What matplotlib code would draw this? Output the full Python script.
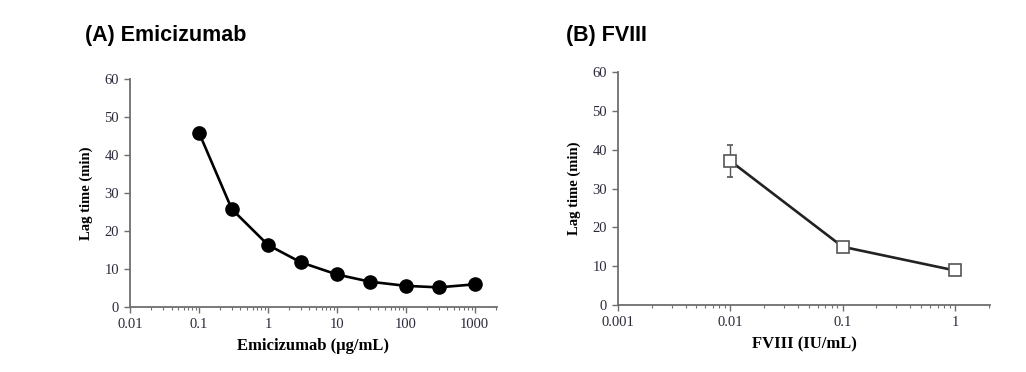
import matplotlib.pyplot as plt
from matplotlib.ticker import LogLocator, FixedLocator, NullFormatter

# (A) Emicizumab
emi_conc = [0.1, 0.3, 1, 3, 10, 30, 100, 300, 1000]
emi_lag = [45.9, 25.7, 16.3, 11.7, 8.5, 6.6, 5.5, 5.1, 5.9]
emi_err = [1.5, 0.8, 0.6, 0.4, 0.3, 0.3, 0.2, 0.2, 0.3]
emi_ticks = [0.01, 0.1, 1, 10, 100, 1000]
emi_labels = ["0.01", "0.1", "1", "10", "100", "1000"]

# (B) FVIII
f8_conc = [0.01, 0.1, 1]
f8_lag = [37.1, 15.0, 8.9]
f8_err = [4.2, 0.6, 0.4]
f8_ticks = [0.001, 0.01, 0.1, 1]
f8_labels = ["0.001", "0.01", "0.1", "1"]

serif = "Liberation Serif"

fig = plt.figure(figsize=(10.26, 3.72), dpi=100)
axA = fig.add_axes([0.1267, 0.1755, 0.3577, 0.612])
axB = fig.add_axes([0.6023, 0.180, 0.3626, 0.6265])


def style(ax, ticks, labels, xlim, xlabel):
    ax.set_xscale("log")
    ax.set_xlim(*xlim)
    ax.set_ylim(0, 60)
    ax.set_yticks(range(0, 61, 10))
    ax.xaxis.set_major_locator(FixedLocator(ticks))
    ax.set_xticklabels(labels)
    ax.xaxis.set_minor_locator(LogLocator(base=10, subs=range(2, 10), numticks=20))
    ax.xaxis.set_minor_formatter(NullFormatter())
    for s in ["top", "right"]:
        ax.spines[s].set_visible(False)
    for s in ["left", "bottom"]:
        ax.spines[s].set_color("#6e6e6e")
        ax.spines[s].set_linewidth(1.3)
    ax.tick_params(axis="both", which="major", direction="out", length=4,
                   width=1, color="#6e6e6e", labelsize=10.5, pad=4)
    ax.tick_params(axis="x", which="minor", direction="out", length=2,
                   width=0.8, color="#6e6e6e")
    for t in ax.get_xticklabels() + ax.get_yticklabels():
        t.set_fontfamily(serif)
        t.set_color("#2a2a3a")
    ax.set_xlabel(xlabel, fontfamily=serif, fontweight="bold", fontsize=12, labelpad=5)
    ax.set_ylabel("Lag time (min)", fontfamily=serif, fontweight="bold", fontsize=10.5, labelpad=8)


axA.errorbar(emi_conc, emi_lag, yerr=emi_err, color="black", lw=1.9,
             marker="o", markersize=9.5, markerfacecolor="black",
             markeredgecolor="black", ecolor="#444444", elinewidth=1, capsize=2,
             clip_on=False, zorder=3)
style(axA, emi_ticks, emi_labels, (0.01, 2100), "Emicizumab (\u03bcg/mL)")

axB.errorbar(f8_conc, f8_lag, yerr=f8_err, color="#222222", lw=1.9,
             marker="s", markersize=8.5, markerfacecolor="white",
             markeredgecolor="#555555", markeredgewidth=1.2, ecolor="#555555",
             elinewidth=1, capsize=2, clip_on=False, zorder=3)
style(axB, f8_ticks, f8_labels, (0.001, 2.05), "FVIII (IU/mL)")

fig.text(0.083, 0.905, "(A) Emicizumab", fontfamily="Liberation Sans",
         fontweight="bold", fontsize=15.5, va="center")
fig.text(0.552, 0.905, "(B) FVIII", fontfamily="Liberation Sans",
         fontweight="bold", fontsize=15.5, va="center")

fig.savefig("out.png", dpi=100)
